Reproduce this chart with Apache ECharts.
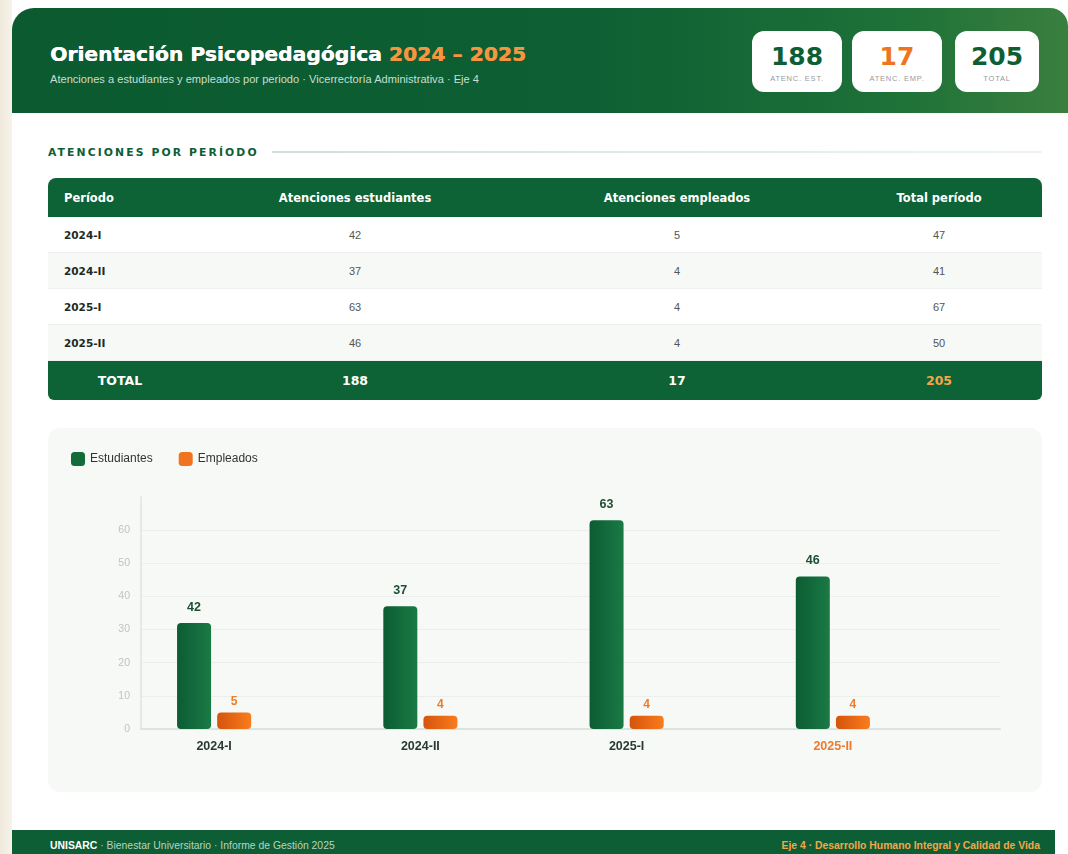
<!DOCTYPE html>
<html><head><meta charset="utf-8">
<script src="https://cdn.jsdelivr.net/npm/echarts@6/dist/echarts.min.js"></script>
<style>
html,body{margin:0;padding:0;width:1068px;height:854px;overflow:hidden;background:#fff;font-family:"Liberation Sans",Arial,sans-serif;}
#strip{position:absolute;left:0;top:0;width:12px;height:854px;background:linear-gradient(90deg,#efe9dc,#f7f3ea);}
#header{position:absolute;left:12px;top:8px;width:1056px;height:105px;border-radius:22px 18px 0 0;background:linear-gradient(90deg,#0b5a30 0%,#0e5f33 55%,#1f7238 85%,#3a7f3f 100%);}
#title{position:absolute;left:38px;top:34px;font-family:"DejaVu Sans",sans-serif;font-weight:bold;font-size:20.3px;color:#fff;white-space:nowrap;text-shadow:0.4px 0 0 #fff;}
#title span{color:#f59540;text-shadow:0.4px 0 0 #f59540;}
#sub{position:absolute;left:38px;top:65px;font-size:11.1px;color:#c9dfd0;white-space:nowrap;}
.kpi{position:absolute;top:23px;height:61px;background:#fff;border-radius:12px;text-align:center;}
.kpi .n{font-family:"DejaVu Sans",sans-serif;font-weight:bold;font-size:25px;line-height:25px;margin-top:13px;color:#0d5e34;}
.kpi .l{font-size:7.5px;color:#999;letter-spacing:0.8px;margin-top:5px;}
#sec{position:absolute;left:48px;top:146px;font-family:"DejaVu Sans",sans-serif;font-size:10.8px;font-weight:bold;letter-spacing:2.1px;color:#0d5e34;white-space:nowrap;}
#secline{position:absolute;left:272px;top:151px;width:770px;height:2px;background:linear-gradient(90deg,#cfe2d6,#eef5f0);}
table{position:absolute;left:48px;top:178px;width:994px;border-collapse:separate;border-spacing:0;font-size:11px;}
th{background:#0d6236;color:#fff;font-family:"DejaVu Sans",sans-serif;font-weight:bold;height:39px;font-size:11.5px;padding:0;text-align:center;}
th:first-child{text-align:left;padding-left:16px;border-top-left-radius:8px;}
th:last-child{border-top-right-radius:8px;}
td{height:35px;text-align:center;color:#555;border-bottom:1px solid #eef2ef;padding:0;}
td:first-child{text-align:left;padding-left:16px;font-family:"DejaVu Sans",sans-serif;font-weight:bold;font-size:10.5px;color:#1e2a22;}
tr.alt td{background:#f7f9f7;}
tr.tot td{background:#0d6236;color:#fff;font-family:"DejaVu Sans",sans-serif;font-weight:bold;font-size:12.5px;height:39px;border:none;}
tr.tot td:first-child{text-align:center;padding-left:0;color:#fff;font-size:12.5px;border-bottom-left-radius:6px;}
tr.tot td:last-child{border-bottom-right-radius:6px;color:#f5a54a;}
#panel{position:absolute;left:48px;top:428px;width:994px;height:364px;background:#f6f9f6;border-radius:12px;}
#chart{position:absolute;left:48px;top:428px;width:994px;height:364px;}
#footer{position:absolute;left:12px;top:830px;width:1043px;height:24px;background:#0d5e34;font-size:10.4px;}
#fl{position:absolute;left:38px;top:10px;color:#b9d3c2;white-space:nowrap;}
#fl b{color:#fff;}
#fr{position:absolute;right:15px;top:10px;color:#f5a54a;font-weight:bold;white-space:nowrap;}
</style></head>
<body>
<div id="strip"></div>
<div id="header">
  <div id="title">Orientación Psicopedagógica <span>2024 – 2025</span></div>
  <div id="sub">Atenciones a estudiantes y empleados por periodo · Vicerrectoría Administrativa · Eje 4</div>
  <div class="kpi" style="left:740px;width:90px"><div class="n" id="k1"></div><div class="l">ATENC. EST.</div></div>
  <div class="kpi" style="left:840px;width:90px"><div class="n" id="k2" style="color:#f07420"></div><div class="l">ATENC. EMP.</div></div>
  <div class="kpi" style="left:943px;width:84px"><div class="n" id="k3"></div><div class="l">TOTAL</div></div>
</div>
<div id="sec">ATENCIONES POR PERÍODO</div>
<div id="secline"></div>
<table id="tbl"></table>
<div id="panel"></div>
<div id="chart"></div>
<div id="footer">
  <div id="fl"><b>UNISARC</b> · Bienestar Universitario · Informe de Gestión 2025</div>
  <div id="fr">Eje 4 · Desarrollo Humano Integral y Calidad de Vida</div>
</div>
<script>
// ---- data ----
var periods = ["2024-I", "2024-II", "2025-I", "2025-II"];
var estudiantes = [42, 37, 63, 46];          // table values / bar labels
var empleados = [5, 4, 4, 4];
var totales = [47, 41, 67, 50];
var estudiantesBar = [32, 37, 63, 46];       // bar heights as drawn in the reference
var totalEst = 188, totalEmp = 17, totalAll = 205;
var yTicks = [0, 10, 20, 30, 40, 50, 60];

document.getElementById('k1').textContent = totalEst;
document.getElementById('k2').textContent = totalEmp;
document.getElementById('k3').textContent = totalAll;

var html = '<tr><th style="width:128px">Período</th><th style="width:326px">Atenciones estudiantes</th><th style="width:318px">Atenciones empleados</th><th>Total período</th></tr>';
for (var i = 0; i < periods.length; i++) {
  html += '<tr class="' + (i % 2 ? 'alt' : '') + '"><td>' + periods[i] + '</td><td>' + estudiantes[i] + '</td><td>' + empleados[i] + '</td><td>' + totales[i] + '</td></tr>';
}
html += '<tr class="tot"><td>TOTAL</td><td>' + totalEst + '</td><td>' + totalEmp + '</td><td>' + totalAll + '</td></tr>';
document.getElementById('tbl').innerHTML = html;

var chart = echarts.init(document.getElementById('chart'), null, {renderer: 'canvas'});
var green = new echarts.graphic.LinearGradient(0, 0, 1, 0, [{offset: 0, color: '#0c5c33'}, {offset: 1, color: '#1a7a45'}]);
var orange = new echarts.graphic.LinearGradient(0, 0, 1, 0, [{offset: 0, color: '#d4540c'}, {offset: 1, color: '#f97c1e'}]);
var ymax = 70;
chart.setOption({
  animation: false,
  textStyle: {fontFamily: '"Liberation Sans", Arial, sans-serif'},
  legend: {
    left: 18, top: 19, itemWidth: 14, itemHeight: 14, itemGap: 26, icon: 'roundRect',
    textStyle: {fontSize: 12, color: '#333'},
    data: [{name: 'Estudiantes', itemStyle: {color: '#136b3a'}}, {name: 'Empleados', itemStyle: {color: '#f2731f'}}]
  },
  grid: [
    {left: 63, right: 106, top: 69, bottom: 63},
    {left: 93, right: 42, top: 69, bottom: 63}
  ],
  xAxis: [
    {type: 'category', gridIndex: 0, data: periods, boundaryGap: true,
     axisLine: {show: false}, axisTick: {show: false}, splitLine: {show: false},
     axisLabel: {margin: 11, fontSize: 12.5, fontWeight: 'bold',
       color: function (v, i) { return i === periods.length - 1 ? '#f07a2a' : '#2b3a30'; }}},
    {type: 'value', gridIndex: 1, min: 0, max: 1, show: true,
     axisLine: {show: true, lineStyle: {color: '#dde3de', width: 2}}, axisTick: {show: false},
     axisLabel: {show: false}, splitLine: {show: false}}
  ],
  yAxis: [
    {type: 'value', gridIndex: 0, min: 0, max: ymax, interval: 10, show: false},
    {type: 'value', gridIndex: 1, min: 0, max: ymax, interval: 10,
     axisLine: {show: true, lineStyle: {color: '#dde3de', width: 1.5}}, axisTick: {show: false},
     axisLabel: {showMaxLabel: false, color: '#c0c4c1', fontSize: 10.5, margin: 11,
       formatter: function (v) { return yTicks.indexOf(v) >= 0 ? String(v) : ''; }},
     splitLine: {show: true, showMaxLine: false, showMinLine: false, lineStyle: {color: '#ebefec', width: 1}}}
  ],
  series: [
    {name: 'Estudiantes', type: 'bar', xAxisIndex: 0, yAxisIndex: 0, data: estudiantesBar,
     barWidth: 34, barGap: '18%', itemStyle: {color: green, borderRadius: 4},
     label: {show: true, position: 'top', distance: 9, fontSize: 12.5, fontWeight: 'bold', color: '#1d4f33',
       formatter: function (p) { return String(estudiantes[p.dataIndex]); }}},
    {name: 'Empleados', type: 'bar', xAxisIndex: 0, yAxisIndex: 0, data: empleados,
     barWidth: 34, itemStyle: {color: orange, borderRadius: 4},
     label: {show: true, position: 'top', distance: 5, fontSize: 12, fontWeight: 'bold', color: '#f07a2a'}}
  ]
});
</script>
</body></html>
